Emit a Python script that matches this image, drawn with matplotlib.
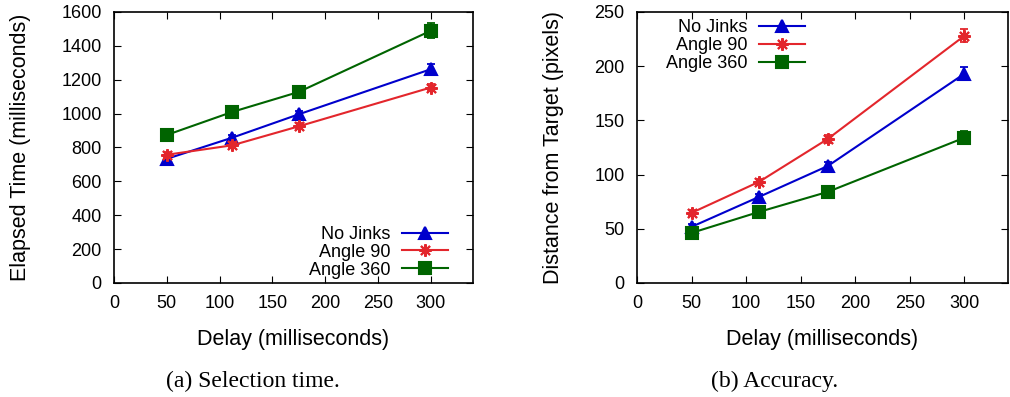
import matplotlib.pyplot as plt

plt.rcParams['font.family'] = ['Liberation Sans', 'DejaVu Sans']

# delays used in the study (ms)
delays = [50, 112, 175, 300]
series_names = ['No Jinks', 'Angle 90', 'Angle 360']

# selection time (ms) and its error
time_nojinks = [733, 858, 996, 1262]
time_angle90 = [757, 813, 925, 1154]
time_angle360 = [874, 1010, 1128, 1489]
time_err_nojinks = [15, 18, 18, 30]
time_err_angle90 = [18, 18, 18, 20]
time_err_angle360 = [15, 18, 25, 45]

# distance from target (pixels) and its error
dist_nojinks = [51.8, 79.5, 108, 193]
dist_angle90 = [64.7, 93.4, 133, 228]
dist_angle360 = [46.2, 65.6, 84.1, 134]
dist_err_nojinks = [2.5, 2.5, 3.5, 6]
dist_err_angle90 = [2.5, 2.5, 3.5, 6]
dist_err_angle360 = [2, 2, 2.5, 6]

colors = ['#0000cc', '#e3262c', '#006400']
markers = ['^', (8, 2, 0), 's']
msizes = [8.5, 9, 8]


def draw_panel(ax, values, errors, ymax, ystep, ylabel, legend_loc, bbox):
    handles = []
    for vals, errs, c, m, ms in zip(values, errors, colors, markers, msizes):
        ax.errorbar(delays, vals, yerr=errs, color=c, lw=1.5, capsize=3,
                    elinewidth=1.3, capthick=1.3, fmt='none')
        line, = ax.plot(delays, vals, color=c, lw=1.5, marker=m, ms=ms,
                        mew=1.5)
        handles.append(line)
    ax.set_xlim(0, 340)
    ax.set_ylim(0, ymax)
    ax.set_xticks(range(0, 301, 50))
    ax.set_yticks(range(0, ymax + 1, ystep))
    ax.tick_params(direction='in', top=True, right=True, length=5,
                   labelsize=13, pad=9)
    for s in ax.spines.values():
        s.set_linewidth(1.2)
    ax.set_xlabel('Delay (milliseconds)', fontsize=15.5, labelpad=12)
    ax.set_ylabel(ylabel, fontsize=15.5, labelpad=22)
    ax.legend(handles, series_names, loc=legend_loc, bbox_to_anchor=bbox,
              markerfirst=False, frameon=False, fontsize=13,
              handlelength=2.55, handletextpad=0.65, labelspacing=0.05,
              borderaxespad=0, borderpad=0)


fig = plt.figure(figsize=(10.1, 3.97), dpi=100)
ax1 = fig.add_axes([0.1129, 0.2872, 0.3554, 0.6826])
ax2 = fig.add_axes([0.6307, 0.2872, 0.3673, 0.6826])

draw_panel(ax1, [time_nojinks, time_angle90, time_angle360],
           [time_err_nojinks, time_err_angle90, time_err_angle360],
           1600, 200, 'Elapsed Time (milliseconds)', 'lower right',
           (0.93, 0.016))
draw_panel(ax2, [dist_nojinks, dist_angle90, dist_angle360],
           [dist_err_nojinks, dist_err_angle90, dist_err_angle360],
           250, 50, 'Distance from Target (pixels)', 'upper right',
           (0.453, 0.974))

fig.text(0.25, 0.025, '(a) Selection time.', ha='center', fontsize=17,
         family=['Liberation Serif', 'DejaVu Serif'])
fig.text(0.767, 0.025, '(b) Accuracy.', ha='center', fontsize=17,
         family=['Liberation Serif', 'DejaVu Serif'])

fig.savefig('out.png', dpi=100)
